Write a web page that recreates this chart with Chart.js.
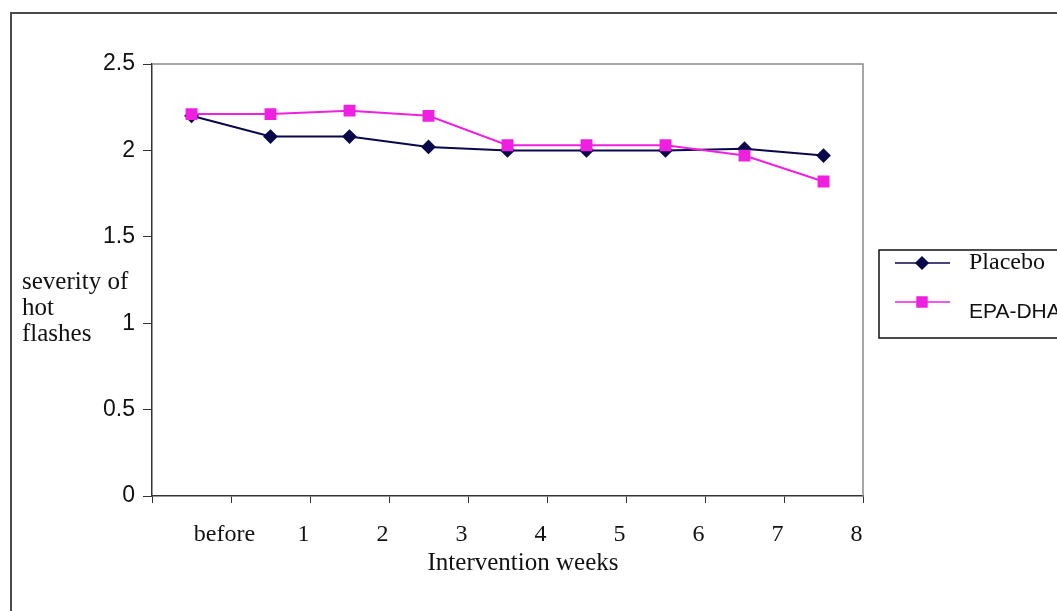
<!DOCTYPE html>
<html>
<head>
<meta charset="utf-8">
<script src="https://cdn.jsdelivr.net/npm/chart.js@4"></script>
<style>
  html, body { margin: 0; padding: 0; background: #fff; }
  #wrap { position: relative; width: 1057px; height: 611px; overflow: hidden; }
</style>
</head>
<body>
<div id="wrap"><canvas id="chart" width="1057" height="611"></canvas></div>
<script>
// data
const weeks = ['before', '1', '2', '3', '4', '5', '6', '7', '8'];
const placebo = [2.2, 2.08, 2.08, 2.02, 2.0, 2.0, 2.0, 2.01, 1.97];
const epaDha = [2.21, 2.21, 2.23, 2.2, 2.03, 2.03, 2.03, 1.97, 1.82];
const seriesNames = ['Placebo', 'EPA-DHA'];
const yTitle = ['severity of', 'hot', 'flashes'];
const xTitle = 'Intervention weeks';
const yMin = 0, yMax = 2.5, yStep = 0.5;

const navy = '#08084a';
const magenta = '#f020e0';
const serif = '"Liberation Serif", "Times New Roman", serif';
const sans = '"Liberation Sans", Arial, sans-serif';

// extra drawing: frame, axis titles, legend
const decorations = {
    id: 'decorations',
    afterDraw(chart) {
        const ctx = chart.ctx;
        const a = chart.chartArea;
        ctx.save();

        // outer frame (left + top only)
        ctx.strokeStyle = '#4a4a4a';
        ctx.lineWidth = 2;
        ctx.beginPath();
        ctx.moveTo(11, 611);
        ctx.lineTo(11, 13);
        ctx.lineTo(1057, 13);
        ctx.stroke();

        // plot area top/right edge
        ctx.strokeStyle = '#8a8a8a';
        ctx.lineWidth = 1.5;
        ctx.beginPath();
        ctx.moveTo(a.left, a.top);
        ctx.lineTo(a.right, a.top);
        ctx.lineTo(a.right, a.bottom);
        ctx.stroke();

        // y title, horizontal, three lines
        ctx.fillStyle = '#111';
        ctx.font = '25px ' + serif;
        ctx.textAlign = 'left';
        ctx.textBaseline = 'middle';
        yTitle.forEach((t, i) => ctx.fillText(t, 22, 282 + i * 26));

        // x title
        ctx.textAlign = 'center';
        ctx.font = '25px ' + serif;
        ctx.fillText(xTitle, 523, 563);

        // legend box (runs off the right edge)
        ctx.strokeStyle = '#111';
        ctx.lineWidth = 1.5;
        ctx.strokeRect(879, 250, 220, 88);

        const items = [
            { ds: chart.data.datasets[0], y: 263, font: '24px ' + serif, ty: 263 },
            { ds: chart.data.datasets[1], y: 302, font: '21px ' + sans, ty: 312 }
        ];
        items.forEach(it => {
            ctx.strokeStyle = it.ds.borderColor;
            ctx.lineWidth = 1.5;
            ctx.beginPath();
            ctx.moveTo(895, it.y);
            ctx.lineTo(950, it.y);
            ctx.stroke();
            Chart.helpers.drawPoint(ctx, {
                pointStyle: it.ds.pointStyle,
                radius: it.ds.pointRadius,
                borderWidth: 1
            }, 922, it.y);
            ctx.fillStyle = it.ds.pointBackgroundColor;
            ctx.strokeStyle = it.ds.pointBorderColor;
            ctx.fill();
            ctx.fillStyle = '#111';
            ctx.font = it.font;
            ctx.textAlign = 'left';
            ctx.fillText(it.ds.label, 969, it.ty);
        });
        ctx.restore();
    }
};

new Chart(document.getElementById('chart'), {
    type: 'line',
    data: {
        labels: weeks,
        datasets: [{
            label: seriesNames[0],
            data: placebo,
            borderColor: navy,
            borderWidth: 2,
            pointStyle: 'rectRot',
            pointRadius: 6,
            pointBackgroundColor: navy,
            pointBorderColor: navy,
            order: 2
        }, {
            label: seriesNames[1],
            data: epaDha,
            borderColor: magenta,
            borderWidth: 2,
            pointStyle: 'rect',
            pointRadius: 7,
            pointBackgroundColor: magenta,
            pointBorderColor: magenta,
            order: 1
        }]
    },
    options: {
        responsive: false,
        animation: false,
        layout: { padding: { left: 0, top: 64, right: 194, bottom: 0 } },
        plugins: {
            legend: { display: false },
            tooltip: { enabled: false }
        },
        scales: {
            x: {
                offset: true,
                grid: {
                    offset: true,
                    drawOnChartArea: false,
                    color: '#333',
                    tickLength: 7
                },
                border: { color: '#333', width: 1.5 },
                ticks: {
                    color: '#111',
                    font: { family: serif, size: 24 },
                    labelOffset: 33,
                    padding: 17,
                    maxRotation: 0,
                    autoSkip: false
                },
                afterFit: s => { s.height = 115; }
            },
            y: {
                min: yMin,
                max: yMax,
                ticks: {
                    stepSize: yStep,
                    color: '#111',
                    font: { family: sans, size: 23 },
                    padding: 8,
                    callback: v => String(v)
                },
                grid: {
                    drawOnChartArea: false,
                    color: '#333',
                    tickLength: 9
                },
                border: { color: '#333', width: 1.5 },
                afterFit: s => { s.width = 152; }
            }
        }
    },
    plugins: [decorations]
});
</script>
</body>
</html>
